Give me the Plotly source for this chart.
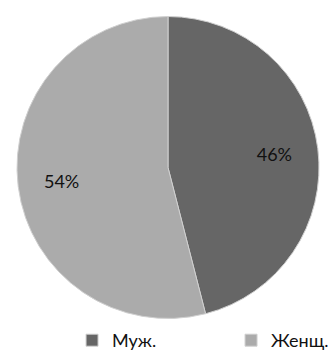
import plotly.graph_objects as go

labels = ["Муж.", "Женщ."]
values = [46, 54]
colors = ["#666666", "#ababab"]

H_PLOT = 322
dom = dict(x=[17/332, 319/332], y=[max(0, 1-321/H_PLOT), 1-14/H_PLOT])
font = dict(family="Lato, Open Sans, sans-serif", size=18, color="#111111")

fig = go.Figure()
fig.add_trace(go.Pie(
    labels=labels,
    values=values,
    sort=False,
    direction="clockwise",
    rotation=0,
    marker=dict(colors=colors, line=dict(color="#d0d0d0", width=1)),
    textinfo="none",
    domain=dom,
    hoverinfo="skip",
))
# transparent ring carrying the percentage labels further out
fig.add_trace(go.Pie(
    labels=labels,
    values=values,
    sort=False,
    direction="clockwise",
    rotation=0,
    hole=0.42,
    marker=dict(colors=["rgba(0,0,0,0)"] * 2, line=dict(width=0)),
    texttemplate="%{percent:.0%}",
    textposition="inside",
    insidetextorientation="horizontal",
    textfont=font,
    domain=dom,
    showlegend=False,
    hoverinfo="skip",
))

fig.update_layout(
    width=332, height=350,
    margin=dict(l=0, r=0, t=0, b=0),
    paper_bgcolor="white",
    plot_bgcolor="white",
    showlegend=True,
    legend=dict(
        orientation="h",
        xref="container", yref="container",
        x=0.217, xanchor="left",
        y=(350 - H_PLOT) / 350, yanchor="top",
        font=font,
        entrywidth=114, entrywidthmode="pixels",
        bgcolor="rgba(0,0,0,0)",
    ),
)

fig.write_html("out.html")
